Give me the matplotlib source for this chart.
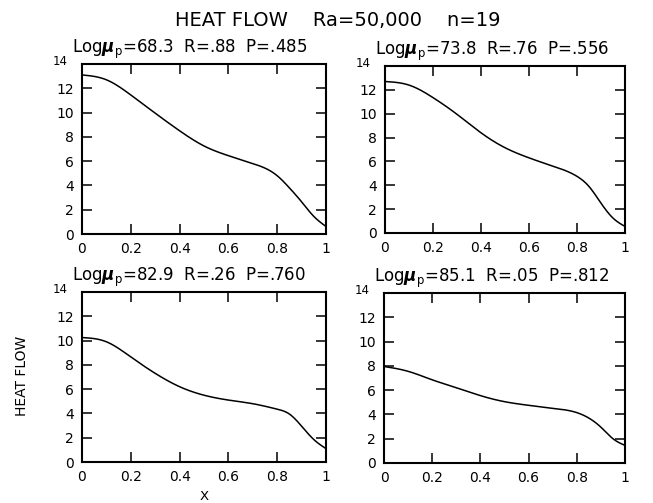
import matplotlib
matplotlib.use("Agg")
import matplotlib.pyplot as plt
import numpy as np

W, H = 653, 503

suptitle = "HEAT FLOW    Ra=50,000    n=19"
log_mu = ["68.3", "73.8", "82.9", "85.1"]
r_vals = [".88", ".76", ".26", ".05"]
p_vals = [".485", ".556", ".760", ".812"]

x_pts = [0.0, 0.1, 0.2, 0.3, 0.4, 0.5, 0.6, 0.7, 0.8, 0.85, 0.9, 0.95, 1.0]
heat_1 = [13.1, 12.7, 11.45, 9.95, 8.5, 7.25, 6.45, 5.8, 4.8, 3.8, 2.65, 1.45, 0.62]
heat_2 = [12.7, 12.4, 11.35, 9.95, 8.4, 7.15, 6.3, 5.6, 4.75, 3.9, 2.5, 1.25, 0.55]
heat_3 = [10.25, 9.9, 8.65, 7.3, 6.2, 5.5, 5.1, 4.8, 4.35, 3.95, 2.95, 1.85, 1.1]
heat_4 = [7.95, 7.55, 6.85, 6.2, 5.55, 5.05, 4.75, 4.5, 4.15, 3.7, 2.95, 2.0, 1.45]
series = [heat_1, heat_2, heat_3, heat_4]

x_ticks = [0, 0.2, 0.4, 0.6, 0.8, 1]
x_ticklabels = ["0", "0.2", "0.4", "0.6", "0.8", "1"]
y_ticks = [0, 2, 4, 6, 8, 10, 12, 14]
y_ticklabels = ["0", "2", "4", "6", "8", "10", "12", ""]
top_label = "14"

# pixel boxes: left, right, top, bottom
boxes = [(82, 326, 64, 234), (385, 625, 66, 233), (82, 326, 292, 462), (384, 625, 293, 463)]

plt.rcParams['font.family'] = ['DejaVu Sans']
fig = plt.figure(figsize=(W / 100, H / 100), dpi=100)


def natural_spline(xs, ys, n=400):
    xs = np.asarray(xs, float); ys = np.asarray(ys, float)
    k = len(xs)
    h = np.diff(xs)
    A = np.zeros((k, k)); rhs = np.zeros(k)
    A[0, 0] = 1; A[-1, -1] = 1
    for i in range(1, k - 1):
        A[i, i - 1] = h[i - 1]
        A[i, i] = 2 * (h[i - 1] + h[i])
        A[i, i + 1] = h[i]
        rhs[i] = 6 * ((ys[i + 1] - ys[i]) / h[i] - (ys[i] - ys[i - 1]) / h[i - 1])
    M = np.linalg.solve(A, rhs)
    xx = np.linspace(xs[0], xs[-1], n)
    idx = np.clip(np.searchsorted(xs, xx) - 1, 0, k - 2)
    x0, x1 = xs[idx], xs[idx + 1]
    hh = h[idx]
    a = (x1 - xx) / hh; b = (xx - x0) / hh
    yy = (a * ys[idx] + b * ys[idx + 1]
          + ((a ** 3 - a) * M[idx] + (b ** 3 - b) * M[idx + 1]) * hh ** 2 / 6)
    return xx, yy


for i, (l, r, t, b) in enumerate(boxes):
    ax = fig.add_axes([l / W, (H - b) / H, (r - l) / W, (b - t) / H])
    xx, yy = natural_spline(x_pts, series[i])
    ax.plot(xx, yy, color='black', lw=1.1)
    ax.set_xlim(0, 1)
    ax.set_ylim(0, 14)
    ax.set_xticks(x_ticks)
    ax.set_xticklabels(x_ticklabels)
    ax.set_yticks(y_ticks)
    ax.set_yticklabels(y_ticklabels)
    ax.tick_params(direction='in', length=7.5, width=1.1, top=True, right=True,
                   labelsize=10, pad=6)
    for s in ax.spines.values():
        s.set_linewidth(1.5)
    ax.annotate(top_label, xy=(0, 14), xycoords='data', xytext=(-10.5, 2),
                textcoords='offset points', ha='right', va='center', fontsize=8.5)
    ax.text(-0.04, 1.02,
            r"Log$\boldsymbol{\mu}_{\rm p}$=" + log_mu[i] + "  R=" + r_vals[i] + "  P=" + p_vals[i],
            transform=ax.transAxes, fontsize=12, ha='left', va='bottom')

fig.text(338 / W, 1 - 20 / H, suptitle, ha='center', va='center', fontsize=14)
fig.text(22 / W, 1 - 376 / H, "HEAT FLOW", rotation=90, ha='center', va='center', fontsize=10)
fig.text(204 / W, 1 - 497 / H, "X", ha='center', va='center', fontsize=9.5)

fig.savefig("out.png", dpi=100)
